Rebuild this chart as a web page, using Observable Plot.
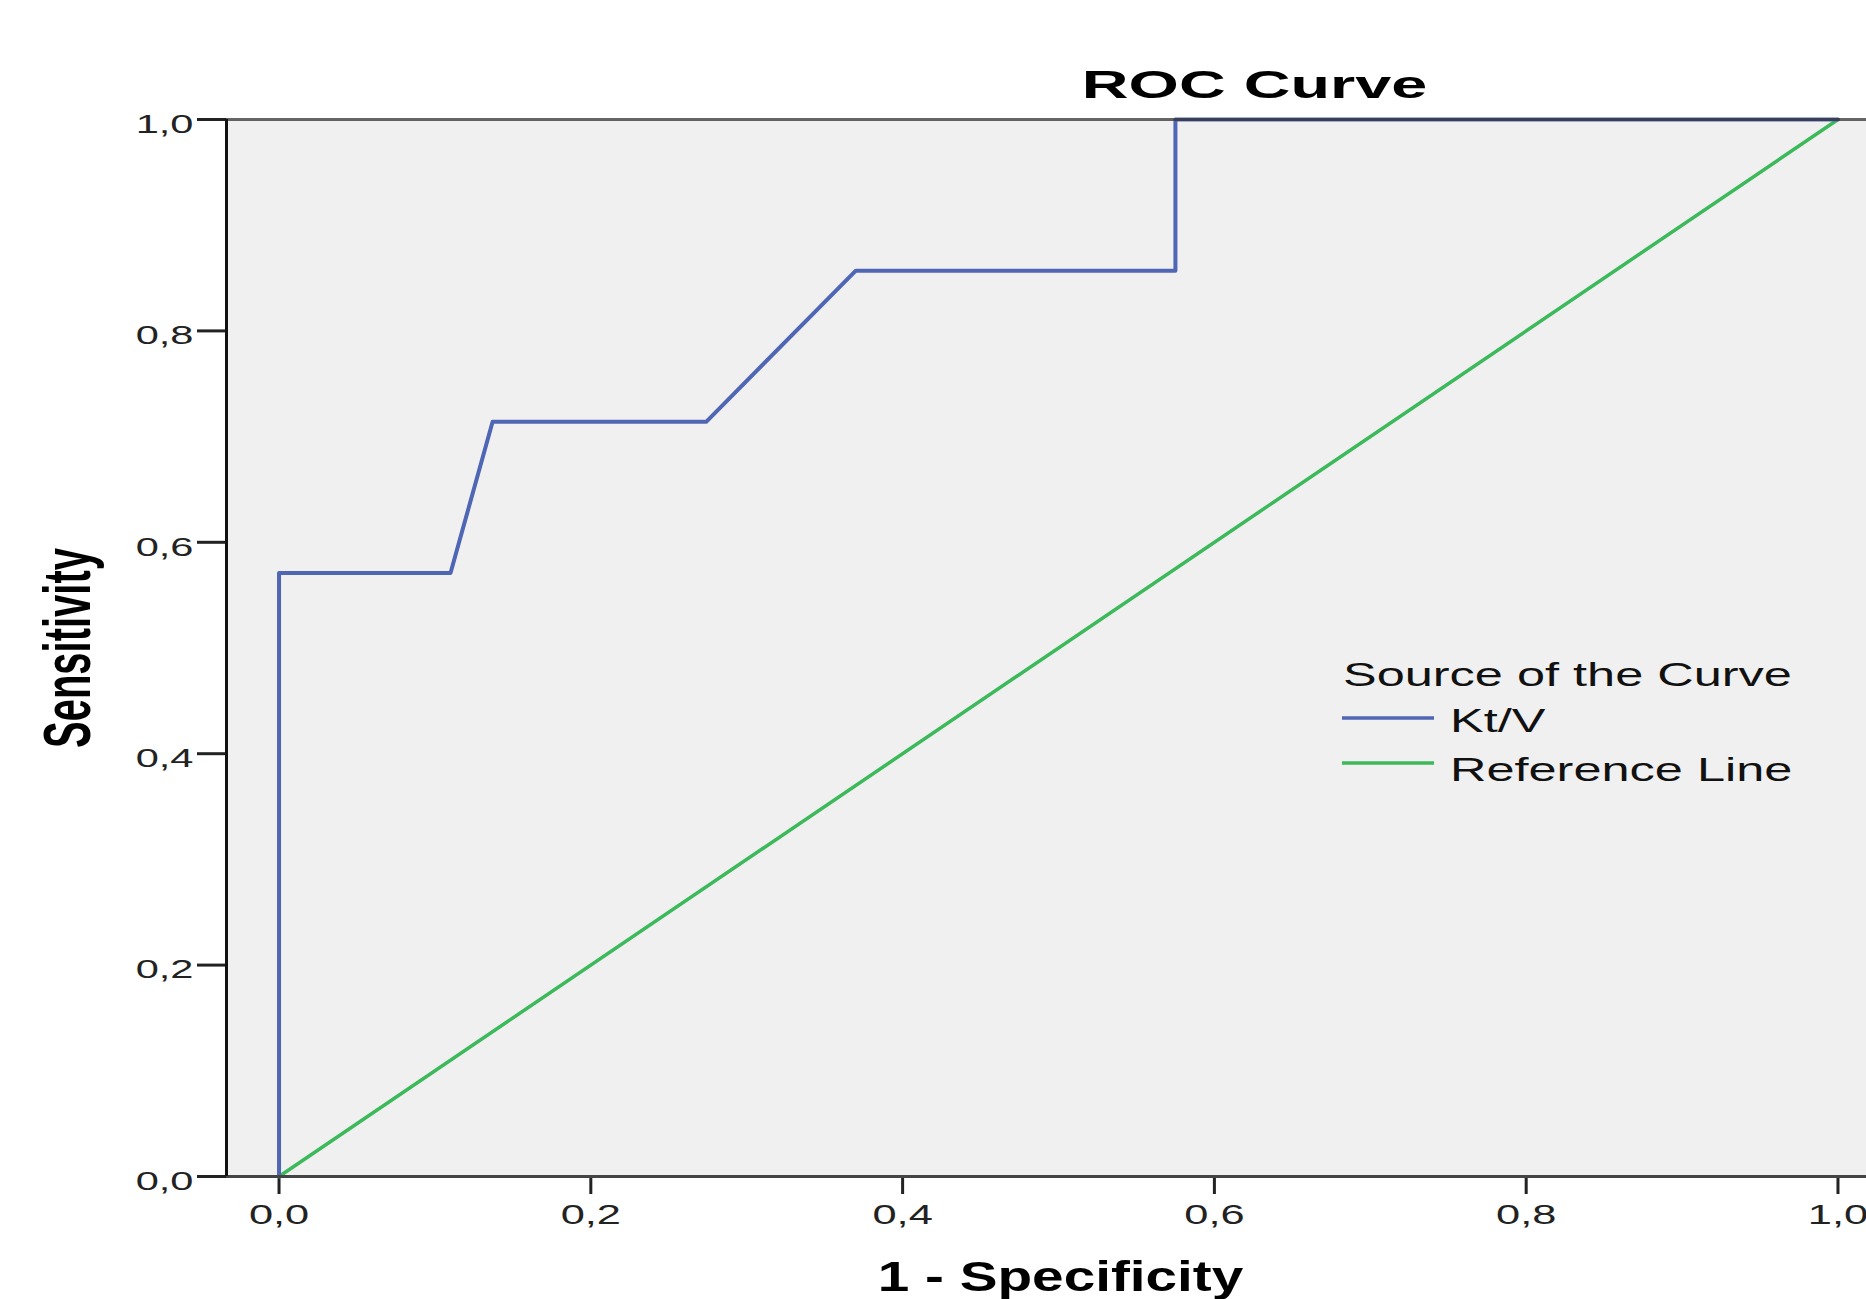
<!DOCTYPE html>
<html><head><meta charset="utf-8">
<script src="https://cdn.jsdelivr.net/npm/d3@7"></script>
<script src="https://cdn.jsdelivr.net/npm/@observablehq/plot@0.6"></script>
<style>html,body{margin:0;padding:0;background:#fff;overflow:hidden} #chart{position:relative;width:1866px;height:1299px}</style>
</head><body><div id="chart"></div>
<script>
const titleText = "ROC Curve";
const xLabel = "1 - Specificity";
const yLabel = "Sensitivity";
const legendTitle = "Source of the Curve";
const seriesNames = ["Kt/V", "Reference Line"];
const seriesColors = ["#4f66b5", "#3cb95a"];
const ktvFpr = [0, 0, 0.110, 0.137, 0.274, 0.370, 0.575, 0.575, 1];
const ktvTpr = [0, 0.571, 0.571, 0.714, 0.714, 0.857, 0.857, 1, 1];
const refFpr = [0, 1];
const refTpr = [0, 1];
const xTicks = [0, 0.2, 0.4, 0.6, 0.8, 1.0];
const yTicks = [0, 0.2, 0.4, 0.6, 0.8, 1.0];
const xDomain = [-0.0337, 1.0183];
const yDomain = [0, 1];

const ktv = ktvFpr.map((x, i) => ({x, y: ktvTpr[i]}));
const ref = refFpr.map((x, i) => ({x, y: refTpr[i]}));
const fmt = d => d.toFixed(1).replace(".", ",");
const FONT = "'Liberation Sans', Arial, Helvetica, sans-serif";

const plot = Plot.plot({
  width: 1866, height: 1299,
  marginLeft: 226, marginRight: 0, marginTop: 119, marginBottom: 123,
  style: {background: "#fff", fontFamily: FONT, fontSize: "26px", color: "#222", overflow: "visible"},
  x: {domain: xDomain, ticks: xTicks, tickFormat: fmt, tickSize: 18, tickPadding: 10, label: null},
  y: {domain: yDomain, ticks: yTicks, tickFormat: fmt, tickSize: 29, tickPadding: 4, label: null},
  marks: [
    Plot.frame({fill: "#f0f0f0", stroke: null}),
    Plot.line(ref, {x: "x", y: "y", stroke: seriesColors[1], strokeWidth: 3.5}),
    Plot.line(ktv, {x: "x", y: "y", stroke: seriesColors[0], strokeWidth: 4}),
    Plot.ruleY([yDomain[1]], {stroke: "#333", strokeOpacity: 0.75, strokeWidth: 3}),
    Plot.ruleY([yDomain[0]], {stroke: "#444", strokeWidth: 3}),
    Plot.ruleX([xDomain[0]], {stroke: "#111", strokeWidth: 3}),
    Plot.text([titleText], {text: d => d, frameAnchor: "top", dx: 208, dy: -22, lineAnchor: "bottom", textAnchor: "middle", fontSize: 39, fontWeight: "bold", fill: "#000"}),
    Plot.text([xLabel], {text: d => d, frameAnchor: "bottom", dx: 14, dy: 114, lineAnchor: "bottom", textAnchor: "middle", fontSize: 42, fontWeight: "bold", fill: "#000"}),
    Plot.text([yLabel], {text: d => d, frameAnchor: "left", dx: -158, rotate: -90, lineAnchor: "middle", textAnchor: "middle", fontSize: 40, fontWeight: "bold", fill: "#000"})
  ]
});

const svg = plot.tagName.toLowerCase() === "svg" ? plot : plot.querySelector("svg");
document.getElementById("chart").appendChild(plot);

function stretch(el, sx, sy = 1, dy = 0) {
  const x = parseFloat(el.getAttribute("x")) || 0;
  const t = el.getAttribute("transform") || "";
  el.setAttribute("transform", `${t} translate(${x},${dy}) scale(${sx},${sy}) translate(${-x},0)`);
}

// tick widths
svg.querySelectorAll('[aria-label="x-axis tick"], [aria-label="y-axis tick"]').forEach(g => { g.setAttribute("stroke-width", 3); g.setAttribute("stroke", "#222"); });
svg.querySelectorAll('[aria-label="x-axis"] .tick line, [aria-label="y-axis"] .tick line').forEach(l => l.setAttribute("stroke-width", 3));

// tick labels
svg.querySelectorAll('[aria-label="x-axis tick label"] text, [aria-label="x-axis"] .tick text').forEach(t => { t.setAttribute("font-size", 28); stretch(t, 1.55, 1, 0); });
svg.querySelectorAll('[aria-label="y-axis tick label"] text, [aria-label="y-axis"] .tick text').forEach(t => stretch(t, 1.6, 1, 5));

// titles (found by their text)
const allText = Array.from(svg.querySelectorAll("text"));
const byContent = s => allText.filter(t => t.textContent === s);
byContent(titleText).forEach(t => stretch(t, 1.66));
byContent(xLabel).forEach(t => stretch(t, 1.35));
byContent(yLabel).forEach(t => {
  t.setAttribute("transform", (t.getAttribute("transform") || "") + " scale(1,1.66)");
});

// legend (inside plot area)
const lg = d3.select(svg).append("g").attr("font-family", FONT).attr("font-size", 33)
  .attr("fill", "#111").attr("text-anchor", "start");
lg.append("text").attr("x", 1343).attr("y", 686).text(legendTitle)
  .attr("transform", "translate(1343,0) scale(1.53,1) translate(-1343,0)");
const sampleY = [718, 763];
const textY = [732, 781];
seriesNames.forEach((name, i) => {
  lg.append("line").attr("x1", 1342).attr("x2", 1434).attr("y1", sampleY[i]).attr("y2", sampleY[i])
    .attr("stroke", seriesColors[i]).attr("stroke-width", 3.5);
  lg.append("text").attr("x", 1450).attr("y", textY[i]).text(name)
    .attr("transform", "translate(1450,0) scale(1.53,1) translate(-1450,0)");
});
</script>
</body></html>
